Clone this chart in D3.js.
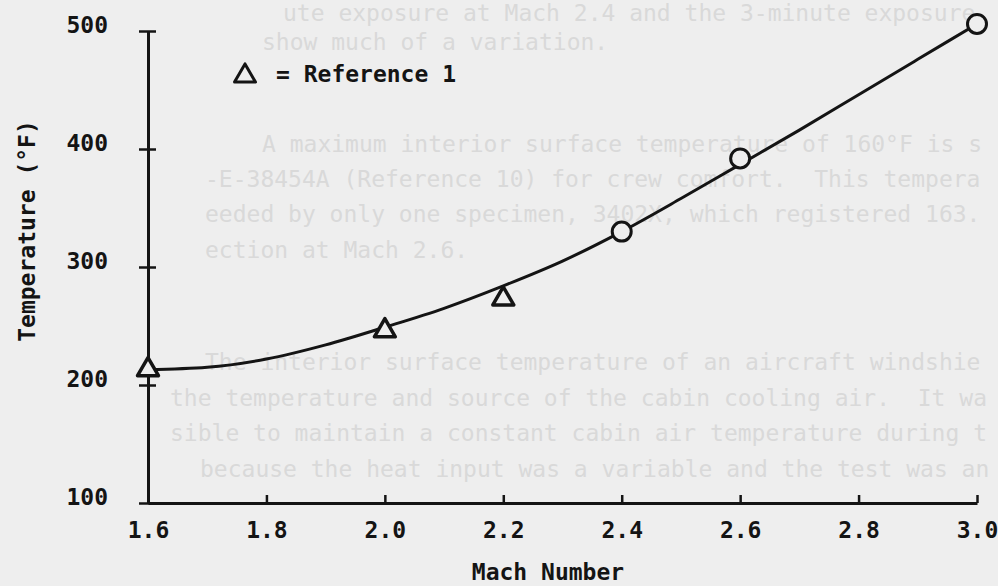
<!DOCTYPE html>
<html>
<head>
<meta charset="utf-8">
<script src="https://cdn.jsdelivr.net/npm/d3@7"></script>
<style>
  html, body { margin: 0; padding: 0; background: #eeeeee; }
  svg { display: block; }
  text { font-family: "DejaVu Sans Mono", monospace; }
</style>
</head>
<body>
<svg id="chart" width="998" height="586"></svg>
<script>
// curve through the measured points
const curveMach = [1.6, 1.7, 1.8, 1.9, 2.0, 2.1, 2.2, 2.3, 2.4, 2.5, 2.6, 2.7, 2.8, 2.9, 3.0];
const curveTemp = [213, 215, 222, 234, 249, 265, 284, 305, 330, 358, 387, 416, 446, 476, 506];

// open circles (this test)
const circleMach = [2.4, 2.6, 3.0];
const circleTemp = [330, 392, 506];

// triangles (Reference 1)
const triMach = [1.6, 2.0, 2.2];
const triTemp = [213, 246, 273];

const machTicks = [1.6, 1.8, 2.0, 2.2, 2.4, 2.6, 2.8, 3.0];
const tempTicks = [100, 200, 300, 400, 500];

// faint text showing through from the scanned page
const ghostLines = [
  "ute exposure at Mach 2.4 and the 3-minute exposure at Mach 3.0 did",
  "show much of a variation.",
  "A maximum interior surface temperature of 160°F is specified by",
  "-E-38454A (Reference 10) for crew comfort.  This temperature was",
  "eeded by only one specimen, 3402X, which registered 163.9°F (see Fi",
  "ection at Mach 2.6.",
  "The interior surface temperature of an aircraft windshield is affe",
  "the temperature and source of the cabin cooling air.  It was not",
  "sible to maintain a constant cabin air temperature during the test",
  "because the heat input was a variable and the test was and a"
];
const ghostX = [283, 262, 262, 205, 205, 205, 205, 170, 170, 200];
const ghostY = [21, 50, 152, 187, 222, 258, 370, 406, 441, 477];

const ink = '#141414';
const charW = 13.85;
const svg = d3.select('#chart');

svg.append('g')
  .selectAll('text')
  .data(ghostLines)
  .enter()
  .append('text')
  .attr('x', (d, i) => ghostX[i])
  .attr('y', (d, i) => ghostY[i])
  .attr('font-size', 23)
  .attr('fill', '#d9d9d9')
  .attr('xml:space', 'preserve')
  .text((d, i) => d.slice(0, Math.floor((990 - ghostX[i]) / charW)));

const x = d3.scaleLinear().domain([1.6, 3.0]).range([148, 977]),
      y = d3.scaleLinear().domain([100, 500]).range([503, 31]);

// x axis
const gx = svg.append('g')
  .attr('transform', 'translate(0,' + y(100) + ')')
  .call(d3.axisBottom(x)
    .tickValues(machTicks)
    .tickSizeInner(-8)
    .tickSizeOuter(0)
    .tickPadding(19)
    .tickFormat(d3.format('.1f')));

// y axis
const gy = svg.append('g')
  .attr('transform', 'translate(' + x(1.6) + ',0)')
  .call(d3.axisLeft(y)
    .tickValues(tempTicks)
    .tickSizeInner(9)
    .tickSizeOuter(0)
    .tickPadding(31));

gy.selectAll('.tick line').attr('x1', 8);
gy.selectAll('.tick text').attr('dy', '0.05em');

[gx, gy].forEach(g => {
  g.select('.domain').attr('stroke', ink).attr('stroke-width', 3);
  g.selectAll('.tick line').attr('stroke', ink).attr('stroke-width', 2.5);
  g.selectAll('.tick text')
    .attr('fill', ink)
    .attr('font-size', 23)
    .attr('font-weight', 'bold')
    .attr('font-family', '"DejaVu Sans Mono", monospace');
});

// axis titles
svg.append('text')
  .attr('x', 548)
  .attr('y', 580)
  .attr('text-anchor', 'middle')
  .attr('font-size', 23)
  .attr('font-weight', 'bold')
  .attr('fill', ink)
  .text('Mach Number');

svg.append('text')
  .attr('transform', 'translate(35,231) rotate(-90)')
  .attr('text-anchor', 'middle')
  .attr('font-size', 23)
  .attr('font-weight', 'bold')
  .attr('fill', ink)
  .text('Temperature (°F)');

// fitted curve
const pts = curveMach.map((m, i) => [m, curveTemp[i]]);
svg.append('path')
  .datum(pts)
  .attr('fill', 'none')
  .attr('stroke', ink)
  .attr('stroke-width', 3)
  .attr('d', d3.line()
    .x(d => x(d[0]))
    .y(d => y(d[1]))
    .curve(d3.curveMonotoneX));

// triangle markers
const tri = d3.symbol().type(d3.symbolTriangle).size(190);
svg.append('g')
  .selectAll('path')
  .data(triMach)
  .enter()
  .append('path')
  .attr('transform', (d, i) => 'translate(' + x(d) + ',' + y(triTemp[i]) + ')')
  .attr('d', tri)
  .attr('fill', '#eeeeee')
  .attr('stroke', ink)
  .attr('stroke-width', 3.5)
  .attr('stroke-linejoin', 'round');

// circle markers
svg.append('g')
  .selectAll('circle')
  .data(circleMach)
  .enter()
  .append('circle')
  .attr('cx', d => x(d))
  .attr('cy', (d, i) => y(circleTemp[i]))
  .attr('r', 9.5)
  .attr('fill', '#eeeeee')
  .attr('stroke', ink)
  .attr('stroke-width', 3);

// legend
svg.append('path')
  .attr('transform', 'translate(245,76)')
  .attr('d', tri)
  .attr('fill', '#eeeeee')
  .attr('stroke', ink)
  .attr('stroke-width', 3)
  .attr('stroke-linejoin', 'round');

svg.append('text')
  .attr('x', 276)
  .attr('y', 82)
  .attr('font-size', 23)
  .attr('font-weight', 'bold')
  .attr('fill', ink)
  .attr('xml:space', 'preserve')
  .text('= Reference 1');
</script>
</body>
</html>
